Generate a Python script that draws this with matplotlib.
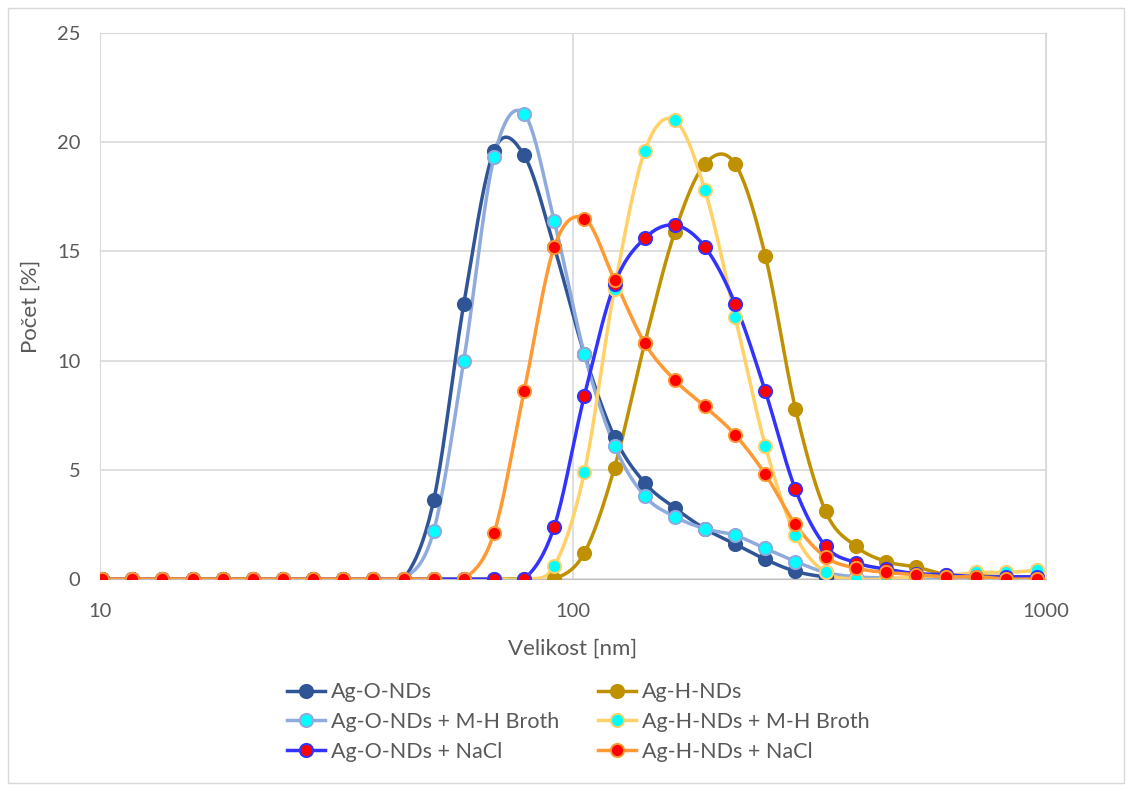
import matplotlib
matplotlib.use("Agg")
import matplotlib.pyplot as plt
import numpy as np
from matplotlib.lines import Line2D
from matplotlib.patches import Rectangle

# DLS size bins [nm]
velikost = [10.1, 11.7, 13.54, 15.69, 18.17, 21.04, 24.36, 28.21, 32.67, 37.84,
            43.82, 50.75, 58.77, 68.06, 78.82, 91.28, 105.7, 122.4, 141.8, 164.2,
            190.1, 220.2, 255.0, 295.3, 342.0, 396.1, 458.7, 531.2, 615.1, 712.4,
            825.0, 955.4]

ag_o = [0, 0, 0, 0, 0, 0, 0, 0, 0, 0,
        0, 3.6, 12.6, 19.6, 19.4, 15.2, 10.3, 6.5, 4.4, 3.25,
        2.3, 1.6, 0.9, 0.35, 0.1, 0.05, 0, 0, 0, 0,
        0, 0]
ag_h = [0, 0, 0, 0, 0, 0, 0, 0, 0, 0,
        0, 0, 0, 0, 0, 0, 1.2, 5.1, 10.8, 15.9,
        19.0, 19.0, 14.8, 7.8, 3.1, 1.5, 0.8, 0.55, 0.2, 0.15,
        0.1, 0.1]
ag_o_mh = [0, 0, 0, 0, 0, 0, 0, 0, 0, 0,
           0, 2.2, 10.0, 19.3, 21.3, 16.4, 10.3, 6.1, 3.8, 2.85,
           2.3, 2.0, 1.4, 0.8, 0.3, 0.1, 0.05, 0, 0, 0,
           0, 0]
ag_h_mh = [0, 0, 0, 0, 0, 0, 0, 0, 0, 0,
           0, 0, 0, 0, 0, 0.6, 4.9, 13.3, 19.6, 21.0,
           17.8, 12.0, 6.1, 2.0, 0.3, 0.0, 0.0, 0.1, 0.15, 0.3,
           0.3, 0.4]
ag_o_nacl = [0, 0, 0, 0, 0, 0, 0, 0, 0, 0,
             0, 0, 0, 0, 0, 2.4, 8.4, 13.5, 15.6, 16.2,
             15.2, 12.6, 8.6, 4.1, 1.5, 0.75, 0.45, 0.25, 0.2, 0.1,
             0.1, 0.1]
ag_h_nacl = [0, 0, 0, 0, 0, 0, 0, 0, 0, 0,
             0, 0, 0, 2.1, 8.6, 15.2, 16.5, 13.7, 10.8, 9.1,
             7.9, 6.6, 4.8, 2.5, 1.0, 0.5, 0.3, 0.2, 0.1, 0.1,
             0.0, 0.0]

# label, values, line colour, marker face
series = [
    ("Ag-O-NDs", ag_o, "#2F5597", "#2F5597"),
    ("Ag-H-NDs", ag_h, "#BF9000", "#BF9000"),
    ("Ag-O-NDs + M-H Broth", ag_o_mh, "#8FAADC", "#00FFFF"),
    ("Ag-H-NDs + M-H Broth", ag_h_mh, "#FFD166", "#00FFFF"),
    ("Ag-O-NDs + NaCl", ag_o_nacl, "#3333FF", "#FF0000"),
    ("Ag-H-NDs + NaCl", ag_h_nacl, "#FF9933", "#FF0000"),
]


def smooth(x, y, n=20):
    # Excel-like smoothed line (Catmull-Rom bezier) in log-x space
    u = np.log10(np.asarray(x, float))
    y = np.asarray(y, float)
    p = np.column_stack([u, y])
    p = np.vstack([p[0], p, p[-1]])
    out = []
    t = np.linspace(0, 1, n)[:, None]
    for i in range(1, len(p) - 2):
        p0, p1, p2, p3 = p[i - 1], p[i], p[i + 1], p[i + 2]
        c1 = p1 + (p2 - p0) / 6
        c2 = p2 - (p3 - p1) / 6
        b = ((1 - t) ** 3) * p1 + 3 * ((1 - t) ** 2) * t * c1 \
            + 3 * (1 - t) * t ** 2 * c2 + t ** 3 * p2
        out.append(b)
    out = np.vstack(out)
    return 10 ** out[:, 0], out[:, 1]


plt.rcParams['font.family'] = ['Lato', 'DejaVu Sans']
fig = plt.figure(figsize=(11.32, 7.91), dpi=100)
ax = fig.add_axes([100 / 1132, 1 - 579 / 791, 946 / 1132, 546 / 791])

handles = {}
for label, vals, col, face in series:
    sx, sy = smooth(velikost, vals)
    ax.plot(sx, sy, color=col, lw=2.5, zorder=3)
    ax.plot(velikost, vals, ls='none', marker='o', ms=9.5, mfc=face,
            mec=col, mew=1.4, zorder=4)
    handles[label] = Line2D([], [], color=col, lw=2.5, marker='o', ms=9.5,
                            mfc=face, mec=col, mew=1.4)

ax.set_xscale('log')
ax.set_xlim(10, 1000)
ax.set_ylim(0, 25)
ax.set_yticks([0, 5, 10, 15, 20, 25])
ax.set_xticks([10, 100, 1000])
ax.set_xticklabels(['10', '100', '1000'])
ax.minorticks_off()
ax.grid(True, color='#D9D9D9', lw=1.2)
ax.set_axisbelow(True)
for s in ax.spines.values():
    s.set_color('#D9D9D9')
ax.spines['bottom'].set_color('#BFBFBF')
ax.tick_params(length=0, labelsize=14.5, labelcolor='#595959', pad=14)
ax.tick_params(axis='x', pad=17)
ax.set_xlabel('Velikost [nm]', fontsize=16, color='#595959', labelpad=14)
ax.set_ylabel('Počet [%]', fontsize=16, color='#595959', labelpad=12)

order = ["Ag-O-NDs", "Ag-O-NDs + M-H Broth", "Ag-O-NDs + NaCl",
         "Ag-H-NDs", "Ag-H-NDs + M-H Broth", "Ag-H-NDs + NaCl"]
leg = fig.legend([handles[k] for k in order], order, ncol=2,
                 loc='center', bbox_to_anchor=(578 / 1132, 1 - 722 / 791),
                 frameon=False, fontsize=15.5, handlelength=1.8,
                 columnspacing=1.8, handletextpad=0.25, labelspacing=0.45)
for t in leg.get_texts():
    t.set_color('#595959')

fig.patches.append(Rectangle((8 / 1132, 8 / 791), 1116 / 1132, 775 / 791,
                             transform=fig.transFigure, fill=False,
                             edgecolor='#D9D9D9', lw=1))

fig.savefig('out.png', dpi=100)
